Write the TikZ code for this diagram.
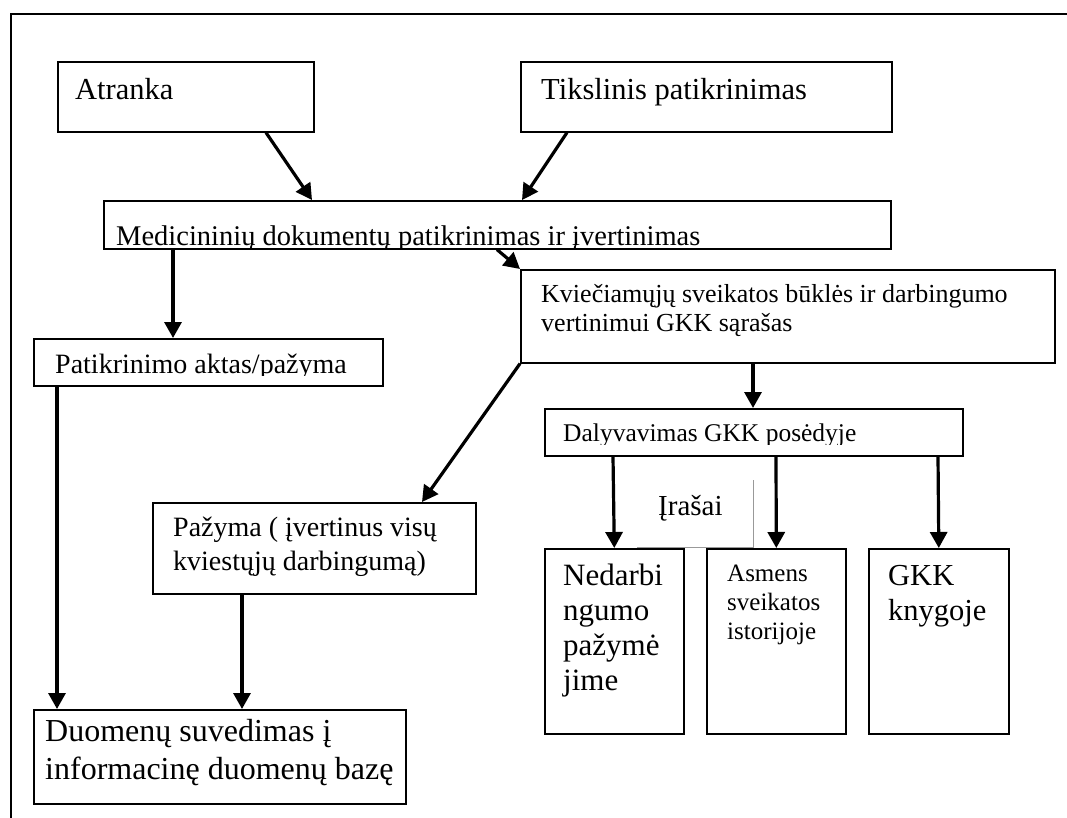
\documentclass[tikz,border=0pt]{standalone}
\usepackage{fontspec}
\setmainfont{Liberation Serif}
\usetikzlibrary{arrows.meta,calc}
\newcommand{\mltext}[1]{\parbox[t]{600pt}{\raggedright #1}}
\begin{document}
\begin{tikzpicture}[x=1pt,y=-1pt,
  box/.style={draw, line width=1.6pt, inner sep=0pt, anchor=north west},
  ghost/.style={inner sep=0pt, anchor=north west},
  txt/.style={anchor=base west, inner sep=0pt},
  arr/.style={line width=3.2pt, -{Triangle[length=16pt,width=17pt]}},
  framer/.style={line width=2.5pt, line join=miter},
  graybox/.style={draw=black!40, line width=1.3pt},
  ]
\useasboundingbox (0,0) rectangle (1067,818);

% outer frame (top and left only)
\draw[framer] (1067,14) -- (11,14) -- (11,818);

% boxes
\node[box, minimum width=256pt, minimum height=70pt] (atr) at (57,61) {};
\node[box, minimum width=371pt, minimum height=70pt] (tik) at (520,61) {};
\node[box, minimum width=787pt, minimum height=48pt] (med) at (103,200) {};
\node[box, minimum width=534pt, minimum height=93pt] (kvi) at (520,269) {};
\node[box, minimum width=349pt, minimum height=47pt] (pat) at (33,338) {};
\node[box, minimum width=418pt, minimum height=47pt] (dal) at (544,408) {};
\node[box, minimum width=323pt, minimum height=91pt] (paz) at (152,502) {};
\node[box, minimum width=372pt, minimum height=94pt] (duo) at (33,709) {};
\node[ghost, minimum width=116pt, minimum height=67pt] (ira) at (637,480) {};
\draw[graybox] (ira.north east) -- (ira.south east) -- (ira.south west);
\node[box, minimum width=139pt, minimum height=185pt] (ned) at (544,548) {};
\node[box, minimum width=139pt, minimum height=185pt] (asm) at (706,548) {};
\node[box, minimum width=140pt, minimum height=185pt] (gkk) at (868,548) {};

% texts
\node[txt, font=\fontsize{30.5pt}{35pt}\selectfont] (atrt) at (75,100) {Atranka};
\node[txt, font=\fontsize{30.5pt}{35pt}\selectfont] (tikt) at (541,100) {Tikslinis patikrinimas};
\begin{scope}
  \clip (100,197) rectangle (893,247.5);
  \node[txt, font=\fontsize{28.5pt}{33pt}\selectfont] (medt) at (116,246) {Medicininių dokumentų patikrinimas ir įvertinimas};
\end{scope}
\node[txt, font=\fontsize{26pt}{29pt}\selectfont] (kvit) at (541,302.7) {\mltext{Kviečiamųjų sveikatos būklės ir darbingumo\\vertinimui GKK sąrašas}};
\begin{scope}
  \clip (30,335) rectangle (385,375.5);
  \node[txt, font=\fontsize{28pt}{33pt}\selectfont] (patt) at (55,373) {Patikrinimo aktas/pažyma};
\end{scope}
\begin{scope}
  \clip (541,405) rectangle (965,444.5);
  \node[txt, font=\fontsize{25.5pt}{29pt}\selectfont] (dalt) at (563,441.5) {Dalyvavimas GKK posėdyje};
\end{scope}
\node[txt, font=\fontsize{29pt}{33pt}\selectfont] (irat) at (658,515) {Įrašai};
\node[txt, font=\fontsize{28pt}{33.3pt}\selectfont] (pazt) at (173,536.7) {\mltext{Pažyma ( įvertinus visų\\kviestųjų darbingumą)}};
\node[txt, font=\fontsize{32pt}{38pt}\selectfont] (duot) at (45,741.7) {\mltext{Duomenų suvedimas į\\informacinę duomenų bazę}};
\node[txt, font=\fontsize{31pt}{35pt}\selectfont] (nedt) at (563,585) {\mltext{Nedarbi\\ngumo\\pažymė\\jime}};
\node[txt, font=\fontsize{25pt}{29pt}\selectfont] (asmt) at (727,581.7) {\mltext{Asmens\\sveikatos\\istorijoje}};
\node[txt, font=\fontsize{30.5pt}{35pt}\selectfont] (gkkt) at (888,585) {\mltext{GKK\\knygoje}};

% connectors
\draw[arr] ($(atr.south west)+(209,0)$) -- ($(med.north west)+(209,0)$);
\draw[arr] ($(tik.south west)+(47,0)$) -- ($(med.north west)+(419,0)$);
\draw[arr] ($(med.south west)+(70,0)$) -- ($(pat.north west)+(140,0)$);
\draw[arr] ($(med.south west)+(394,0)$) -- (kvi.north west);
\draw[arr] ($(kvi.south west)+(233,0)$) -- ($(dal.north west)+(209,0)$);
\draw[arr] (kvi.south west) -- ($(paz.north west)+(270,0)$);
\draw[arr] ($(pat.south west)+(24,0)$) -- ($(duo.north west)+(24,0)$);
\draw[arr] ($(paz.south west)+(90,0)$) -- ($(duo.north west)+(209,0)$);
\draw[arr] ($(dal.south west)+(69,0)$) -- (ned.north);
\draw[arr] ($(dal.south west)+(232,0)$) -- (asm.north);
\draw[arr] ($(dal.south west)+(394,0)$) -- (gkk.north);
\end{tikzpicture}
\end{document}
